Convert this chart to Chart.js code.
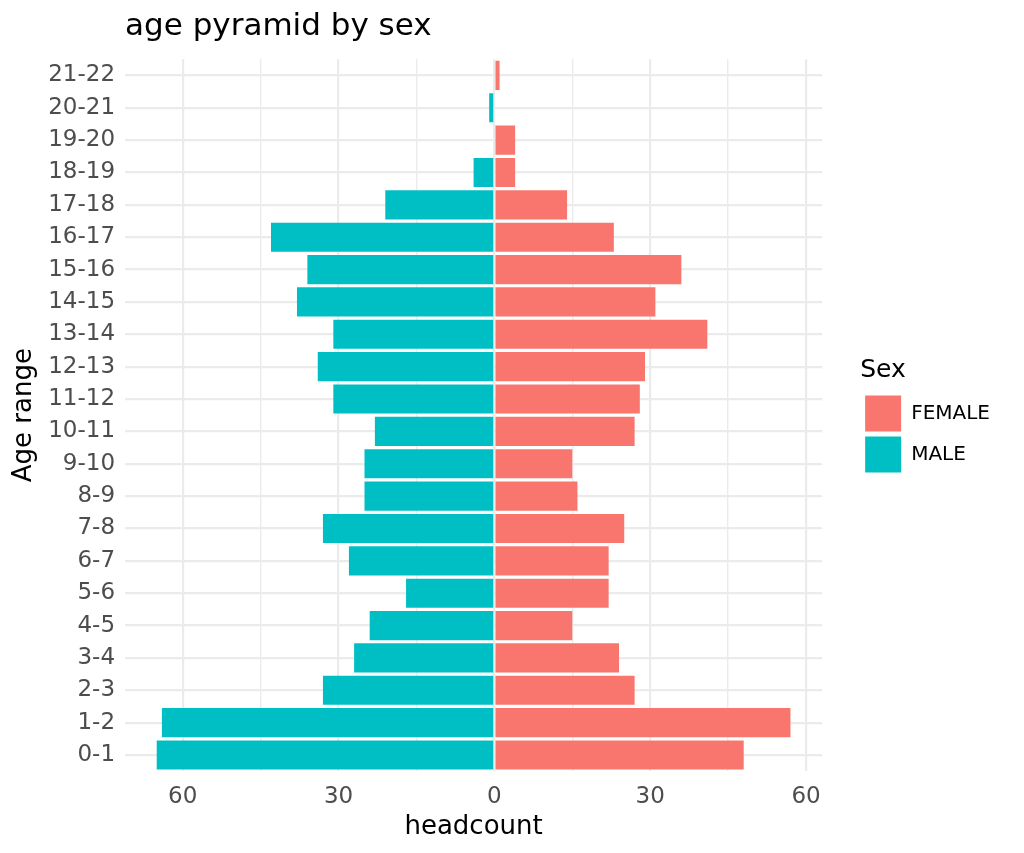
<!DOCTYPE html>
<html>
<head>
<meta charset="utf-8">
<script src="https://cdn.jsdelivr.net/npm/chart.js@4"></script>
<style>
  html, body { margin: 0; padding: 0; background: #fff; }
  #wrap { position: relative; width: 1024px; height: 853px; }
</style>
</head>
<body>
<div id="wrap"><canvas id="pyramid"></canvas></div>
<script>
// Age groups, bottom to top
const ageRanges = ['0-1', '1-2', '2-3', '3-4', '4-5', '5-6', '6-7', '7-8', '8-9', '9-10', '10-11',
    '11-12', '12-13', '13-14', '14-15', '15-16', '16-17', '17-18', '18-19', '19-20', '20-21', '21-22'];

// headcount per age group
const femaleCounts = [48, 57, 27, 24, 15, 22, 22, 25, 16, 15, 27, 28, 29, 41, 31, 36, 23, 14, 4, 4, 0, 1];
const maleCounts = [65, 64, 33, 27, 24, 17, 28, 33, 25, 25, 23, 31, 34, 31, 38, 36, 43, 21, 4, 0, 1, 0];

// x gridlines (labels only on multiples of 30)
const xTicks = [-60, -45, -30, -15, 0, 15, 30, 45, 60];

const gridColor = '#EBEBEB';
const fontFamily = '"DejaVu Sans", sans-serif';

// nudge the legend up a little so it sits beside the middle of the panel
const legendNudge = {
    id: 'legendNudge',
    afterLayout(chart) {
        const lg = chart.legend;
        if (lg) {
            lg.top -= 7;
            lg.bottom -= 7;
        }
    }
};

const ctx = document.getElementById('pyramid').getContext('2d');
new Chart(ctx, {
    type: 'bar',
    data: {
        labels: ageRanges,
        datasets: [{
            label: 'FEMALE',
            data: femaleCounts,
            backgroundColor: '#F8766D',
            borderWidth: 0
        }, {
            label: 'MALE',
            data: maleCounts.map(v => -v), // males go left
            backgroundColor: '#00BFC4',
            borderWidth: 0
        }]
    },
    plugins: [legendNudge],
    options: {
        indexAxis: 'y',
        responsive: true,
        maintainAspectRatio: false,
        animation: false,
        categoryPercentage: 0.9,
        barPercentage: 1.0,
        layout: { padding: { left: 9, right: 24, top: 6, bottom: 10 } },
        scales: {
            x: {
                stacked: true,
                min: -71.1,
                max: 63.1,
                afterBuildTicks: (scale) => {
                    scale.ticks = xTicks.map(v => ({ value: v }));
                },
                ticks: {
                    color: '#4D4D4D',
                    font: { family: fontFamily, size: 23 },
                    padding: 12,
                    maxRotation: 0,
                    autoSkip: false,
                    callback: (v) => (v % 30 === 0 ? Math.abs(v) : '')
                },
                grid: {
                    color: gridColor,
                    lineWidth: (c) => (c.tick && c.tick.value % 30 === 0 ? 2.2 : 1.4),
                    drawTicks: false
                },
                border: { display: false },
                title: {
                    display: true,
                    text: 'headcount',
                    color: '#000',
                    font: { family: fontFamily, size: 26 },
                    padding: { top: -11, bottom: 0 }
                }
            },
            y: {
                stacked: true,
                reverse: true,
                ticks: {
                    color: '#4D4D4D',
                    font: { family: fontFamily, size: 23 },
                    padding: 10,
                    autoSkip: false
                },
                grid: {
                    color: gridColor,
                    lineWidth: 2.2,
                    offset: false,
                    drawTicks: false
                },
                border: { display: false },
                title: {
                    display: true,
                    text: 'Age range',
                    color: '#000',
                    font: { family: fontFamily, size: 26 },
                    padding: { top: 0, bottom: -2 }
                }
            },
            // empty spacer between the panel and the legend
            gap: {
                type: 'linear',
                axis: 'y',
                position: 'right',
                display: true,
                grid: { display: false },
                ticks: { display: false },
                border: { display: false },
                afterFit: (scale) => { scale.width = 38; }
            }
        },
        plugins: {
            title: {
                display: true,
                text: 'age pyramid by sex',
                align: 'start',
                fullSize: false,
                color: '#000',
                font: { family: fontFamily, size: 31, weight: 'normal' },
                padding: { top: 2, bottom: 14 }
            },
            legend: {
                position: 'right',
                align: 'center',
                title: {
                    display: true,
                    text: 'Sex',
                    position: 'start',
                    color: '#000',
                    font: { family: fontFamily, size: 25 },
                    padding: { top: 0, bottom: 3 }
                },
                labels: {
                    boxWidth: 36,
                    boxHeight: 36,
                    padding: 5,
                    color: '#000',
                    font: { family: fontFamily, size: 20 }
                }
            },
            tooltip: { enabled: false }
        }
    }
});
</script>
</body>
</html>
